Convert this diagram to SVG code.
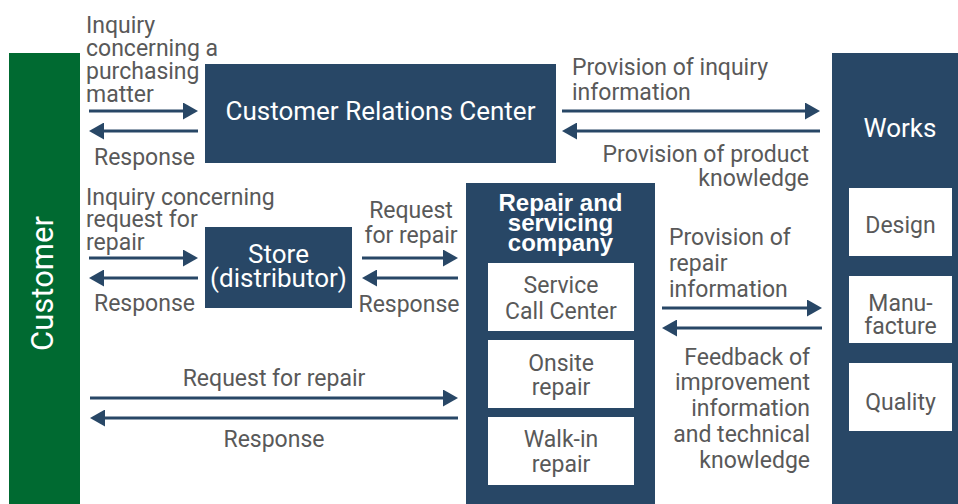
<svg xmlns="http://www.w3.org/2000/svg" width="958" height="504" viewBox="0 0 958 504">
<style>
.navy{fill:#284766}
.green{fill:#006a31}
.wbox{fill:#ffffff}
.wt{font-family:Roboto,"Liberation Sans",sans-serif;font-size:26px;fill:#ffffff;text-anchor:middle}
.wtb{font-family:"Liberation Sans",Arial,sans-serif;font-size:24px;font-weight:bold;fill:#ffffff;text-anchor:middle}
.gt{font-family:Roboto,"Liberation Sans",sans-serif;font-size:23px;fill:#595959}
.mid{text-anchor:middle}
.end{text-anchor:end}
.arr{stroke:#284766;stroke-width:3;fill:none;marker-end:url(#ah)}
</style>
<defs>
<marker id="ah" viewBox="0 0 15 17" refX="5" refY="8.5" markerWidth="15" markerHeight="17" markerUnits="userSpaceOnUse" orient="auto">
<path d="M0,0 L15,8.5 L0,17 z" fill="#284766"/>
</marker>
</defs>
<rect width="958" height="504" fill="#ffffff"/>

<g id="customer">
<rect class="green" x="9" y="53" width="71" height="451"/>
<text class="wt" style="font-size:31px" transform="translate(53,283.5) rotate(-90)">Customer</text>
</g>

<g id="crc">
<rect class="navy" x="205" y="64" width="351" height="99"/>
<text class="wt" x="380.5" y="120">Customer Relations Center</text>
</g>

<g id="store">
<rect class="navy" x="205" y="227" width="147" height="81"/>
<text class="wt"><tspan x="278.5" y="263">Store</tspan><tspan x="278.5" y="287">(distributor)</tspan></text>
</g>

<g id="repair-company">
<rect class="navy" x="466" y="183" width="189" height="321"/>
<text class="wtb"><tspan x="560.5" y="211">Repair and</tspan><tspan x="560.5" y="231">servicing</tspan><tspan x="560.5" y="251">company</tspan></text>
</g>
<g id="service-call-center">
<rect class="wbox" x="488" y="263" width="146" height="68"/>
<text class="gt mid"><tspan x="561" y="293">Service</tspan><tspan x="561" y="319">Call Center</tspan></text>
</g>
<g id="onsite-repair">
<rect class="wbox" x="488" y="340" width="146" height="68"/>
<text class="gt mid"><tspan x="561" y="371">Onsite</tspan><tspan x="561" y="395">repair</tspan></text>
</g>
<g id="walkin-repair">
<rect class="wbox" x="488" y="417" width="146" height="68"/>
<text class="gt mid"><tspan x="561" y="447">Walk-in</tspan><tspan x="561" y="472">repair</tspan></text>
</g>

<g id="works">
<rect class="navy" x="832" y="53" width="126" height="451"/>
<text class="wt" x="900" y="137">Works</text>
</g>
<g id="design">
<rect class="wbox" x="849" y="188" width="103" height="68"/>
<text class="gt mid" x="900.5" y="233">Design</text>
</g>
<g id="manufacture">
<rect class="wbox" x="849" y="276" width="103" height="67"/>
<text class="gt mid"><tspan x="900.5" y="311">Manu-</tspan><tspan x="900.5" y="334">facture</tspan></text>
</g>
<g id="quality">
<rect class="wbox" x="849" y="363" width="103" height="68"/>
<text class="gt mid" x="900.5" y="410">Quality</text>
</g>

<g id="connectors">
<path class="arr" d="M89,111 H188"/>
<path class="arr" d="M198,131 H99"/>
<path class="arr" d="M562,111 H810"/>
<path class="arr" d="M820,131 H572"/>
<path class="arr" d="M89,258 H188"/>
<path class="arr" d="M198,278 H99"/>
<path class="arr" d="M362,258 H448"/>
<path class="arr" d="M458,278 H372"/>
<path class="arr" d="M90,398 H448"/>
<path class="arr" d="M458,418 H100"/>
<path class="arr" d="M662,308 H812"/>
<path class="arr" d="M822,328 H672"/>
</g>

<g id="connector-labels">
<text class="gt"><tspan x="86" y="33">Inquiry</tspan><tspan x="86" y="56">concerning a</tspan><tspan x="86" y="79">purchasing</tspan><tspan x="86" y="102">matter</tspan></text>
<text class="gt end" x="195" y="165">Response</text>

<text class="gt"><tspan x="572" y="75">Provision of inquiry</tspan><tspan x="572" y="100">information</tspan></text>
<text class="gt end"><tspan x="809" y="162">Provision of product</tspan><tspan x="809" y="186">knowledge</tspan></text>

<text class="gt"><tspan x="86" y="205">Inquiry concerning</tspan><tspan x="86" y="227">request for</tspan><tspan x="86" y="250">repair</tspan></text>
<text class="gt end" x="195" y="311">Response</text>

<text class="gt mid"><tspan x="411" y="218">Request</tspan><tspan x="411" y="243">for repair</tspan></text>
<text class="gt mid" x="409" y="312">Response</text>

<text class="gt mid" x="274" y="386">Request for repair</text>
<text class="gt mid" x="274" y="447">Response</text>

<text class="gt"><tspan x="669" y="245">Provision of</tspan><tspan x="669" y="271">repair</tspan><tspan x="669" y="297">information</tspan></text>

<text class="gt end"><tspan x="810" y="365">Feedback of</tspan><tspan x="810" y="390">improvement</tspan><tspan x="810" y="416">information</tspan><tspan x="810" y="442">and technical</tspan><tspan x="810" y="468">knowledge</tspan></text>
</g>
</svg>
